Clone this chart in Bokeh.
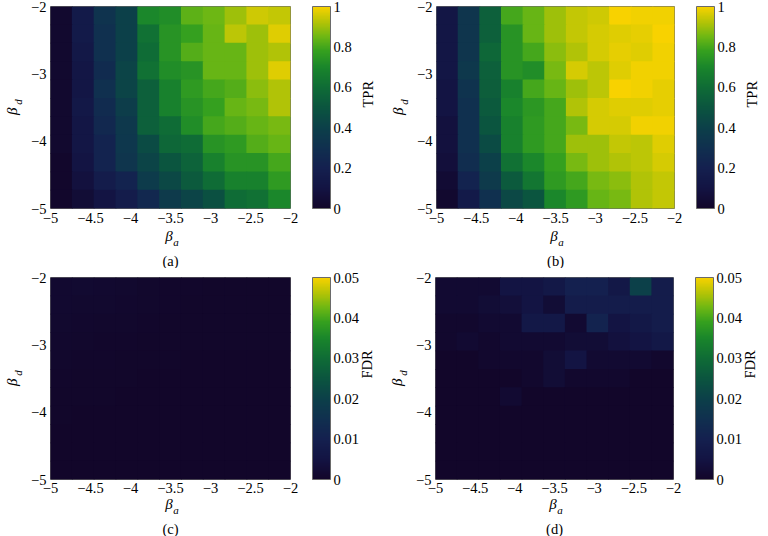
import numpy as np
from bokeh.plotting import figure
from bokeh.models import (ColumnDataSource, LinearColorMapper, ColorBar, FixedTicker,
                          CustomJSTickFormatter, Range1d, LinearAxis, Title)
from bokeh.layouts import column, row
from bokeh.embed import file_html
from bokeh.resources import INLINE
from bokeh.transform import transform

# ---------------- data ----------------
beta_a_extent = [-5.0, -2.0]
beta_d_extent = [-5.0, -2.0]
x_ticks = [-5, -4.5, -4, -3.5, -3, -2.5, -2]
y_ticks = [-5, -4, -3, -2]
tpr_ticks = [0, 0.2, 0.4, 0.6, 0.8, 1]
fdr_ticks = [0, 0.01, 0.02, 0.03, 0.04, 0.05]
panel_tags = ["(a)", "(b)", "(c)", "(d)"]
cbar_titles = ["TPR", "TPR", "FDR", "FDR"]

# rows: top (beta_d = -2) to bottom (beta_d = -5); columns: beta_a = -5 .. -2
tpr_a = [
    [0.02, 0.15, 0.32, 0.40, 0.70, 0.72, 0.83, 0.85, 0.90, 0.95, 0.94],
    [0.02, 0.15, 0.30, 0.40, 0.62, 0.74, 0.78, 0.84, 0.93, 0.90, 0.97],
    [0.02, 0.14, 0.30, 0.40, 0.60, 0.74, 0.82, 0.84, 0.84, 0.90, 0.92],
    [0.02, 0.12, 0.27, 0.42, 0.62, 0.72, 0.74, 0.84, 0.84, 0.90, 0.97],
    [0.02, 0.12, 0.30, 0.42, 0.55, 0.68, 0.76, 0.80, 0.82, 0.88, 0.92],
    [0.02, 0.13, 0.27, 0.38, 0.55, 0.68, 0.74, 0.78, 0.84, 0.86, 0.92],
    [0.02, 0.12, 0.25, 0.35, 0.55, 0.60, 0.72, 0.80, 0.82, 0.84, 0.86],
    [0.02, 0.12, 0.22, 0.34, 0.45, 0.58, 0.60, 0.74, 0.76, 0.82, 0.84],
    [0.01, 0.10, 0.22, 0.33, 0.42, 0.50, 0.56, 0.68, 0.74, 0.74, 0.80],
    [0.01, 0.08, 0.17, 0.22, 0.37, 0.44, 0.52, 0.60, 0.68, 0.68, 0.76],
    [0.01, 0.05, 0.10, 0.17, 0.25, 0.36, 0.42, 0.48, 0.60, 0.62, 0.70],
]
tpr_b = [
    [0.12, 0.33, 0.55, 0.80, 0.84, 0.90, 0.94, 0.95, 1.00, 0.99, 0.99],
    [0.12, 0.33, 0.55, 0.74, 0.84, 0.90, 0.94, 0.96, 0.97, 0.98, 1.00],
    [0.12, 0.33, 0.58, 0.74, 0.80, 0.88, 0.92, 0.96, 0.98, 0.97, 0.99],
    [0.12, 0.35, 0.55, 0.74, 0.72, 0.86, 0.96, 0.93, 0.97, 0.99, 0.99],
    [0.10, 0.32, 0.54, 0.68, 0.80, 0.84, 0.90, 0.93, 1.00, 0.99, 0.98],
    [0.10, 0.30, 0.52, 0.70, 0.75, 0.80, 0.92, 0.96, 0.97, 0.97, 0.98],
    [0.08, 0.30, 0.50, 0.68, 0.76, 0.80, 0.86, 0.96, 0.96, 0.99, 0.99],
    [0.08, 0.30, 0.45, 0.68, 0.76, 0.80, 0.90, 0.90, 0.94, 0.93, 0.97],
    [0.07, 0.28, 0.40, 0.62, 0.70, 0.78, 0.86, 0.90, 0.92, 0.93, 0.96],
    [0.04, 0.22, 0.36, 0.52, 0.64, 0.76, 0.80, 0.86, 0.88, 0.92, 0.94],
    [0.02, 0.15, 0.30, 0.44, 0.50, 0.70, 0.76, 0.84, 0.86, 0.92, 0.94],
]
fdr_c = [
    [0.0012, 0.0014, 0.0012, 0.0010, 0.0006, 0.0004, 0.0004, 0.0002, 0.0002, 0.0002, 0.0002],
    [0.0012, 0.0010, 0.0010, 0.0008, 0.0006, 0.0004, 0.0002, 0.0002, 0.0002, 0.0002, 0.0002],
    [0.0010, 0.0008, 0.0006, 0.0006, 0.0004, 0.0002, 0.0002, 0.0002, 0.0002, 0.0002, 0.0002],
    [0.0008, 0.0006, 0.0004, 0.0004, 0.0002, 0.0002, 0.0002, 0.0002, 0.0002, 0.0002, 0.0002],
    [0.0006, 0.0004, 0.0004, 0.0002, 0.0002, 0.0002, 0.0000, 0.0000, 0.0000, 0.0000, 0.0000],
    [0.0004, 0.0002, 0.0002, 0.0002, 0.0000, 0.0000, 0.0000, 0.0000, 0.0000, 0.0000, 0.0000],
    [0.0002, 0.0002, 0.0002, 0.0000, 0.0000, 0.0000, 0.0000, 0.0000, 0.0000, 0.0000, 0.0000],
    [0.0002, 0.0000, 0.0000, 0.0000, 0.0000, 0.0000, 0.0000, 0.0000, 0.0000, 0.0000, 0.0000],
    [0.0000, 0.0000, 0.0000, 0.0000, 0.0000, 0.0000, 0.0000, 0.0000, 0.0000, 0.0000, 0.0000],
    [0.0000, 0.0000, 0.0000, 0.0000, 0.0000, 0.0000, 0.0000, 0.0000, 0.0000, 0.0000, 0.0000],
    [0.0000, 0.0000, 0.0000, 0.0000, 0.0000, 0.0000, 0.0000, 0.0000, 0.0000, 0.0000, 0.0000],
]
fdr_d = [
    [0.0016, 0.0016, 0.0016, 0.0050, 0.0050, 0.0065, 0.0100, 0.0100, 0.0065, 0.0200, 0.0085],
    [0.0016, 0.0016, 0.0024, 0.0032, 0.0050, 0.0024, 0.0085, 0.0085, 0.0085, 0.0085, 0.0085],
    [0.0008, 0.0008, 0.0016, 0.0016, 0.0065, 0.0065, 0.0016, 0.0110, 0.0050, 0.0065, 0.0085],
    [0.0008, 0.0016, 0.0008, 0.0016, 0.0016, 0.0016, 0.0024, 0.0024, 0.0040, 0.0050, 0.0065],
    [0.0000, 0.0000, 0.0008, 0.0008, 0.0008, 0.0024, 0.0050, 0.0016, 0.0016, 0.0016, 0.0008],
    [0.0000, 0.0000, 0.0000, 0.0000, 0.0008, 0.0024, 0.0008, 0.0008, 0.0008, 0.0000, 0.0000],
    [0.0000, 0.0000, 0.0000, 0.0016, 0.0000, 0.0000, 0.0000, 0.0000, 0.0000, 0.0000, 0.0000],
    [0.0000, 0.0000, 0.0000, 0.0000, 0.0000, 0.0000, 0.0000, 0.0000, 0.0000, 0.0000, 0.0000],
    [0.0000, 0.0000, 0.0000, 0.0000, 0.0000, 0.0000, 0.0000, 0.0000, 0.0000, 0.0000, 0.0000],
    [0.0000, 0.0000, 0.0000, 0.0000, 0.0000, 0.0000, 0.0000, 0.0000, 0.0000, 0.0000, 0.0000],
    [0.0000, 0.0000, 0.0000, 0.0000, 0.0000, 0.0000, 0.0000, 0.0000, 0.0000, 0.0000, 0.0000],
]

# ---------------- colormap ----------------
anchors = [
    (0.00, "#12062a"), (0.10, "#131443"), (0.20, "#14204f"), (0.30, "#10304f"),
    (0.40, "#0c4049"), (0.50, "#0b553f"), (0.60, "#0f6c36"), (0.70, "#1a862b"),
    (0.78, "#35a01f"), (0.85, "#6cb714"), (0.92, "#b0c307"), (1.00, "#f8d200"),
]


def build_palette(n=256):
    pos = np.array([a[0] for a in anchors])
    rgb = np.array([[int(c[1][i:i + 2], 16) for i in (1, 3, 5)] for c in anchors], float)
    out = []
    for t in np.linspace(0, 1, n):
        r, g, b = (np.interp(t, pos, rgb[:, k]) for k in range(3))
        out.append("#%02x%02x%02x" % (int(round(r)), int(round(g)), int(round(b))))
    return out


PALETTE = build_palette()
FONT = "Liberation Serif"
FS = "14.5px"
minus_fmt = CustomJSTickFormatter(code="return tick < 0 ? '\\u2212' + (-tick) : '' + tick;")


def label_axis(text, size, standoff):
    # an axis without ticks, used only to carry a (sub)label outside the frame
    return LinearAxis(ticker=FixedTicker(ticks=[]), axis_label=text,
                      axis_label_text_font=FONT, axis_label_text_font_size=size,
                      axis_label_text_font_style="italic", axis_label_text_color="black",
                      axis_label_standoff=standoff,
                      axis_line_color=None, major_tick_line_color=None, minor_tick_line_color=None,
                      major_tick_out=0, major_tick_in=0, minor_tick_out=0, minor_tick_in=0,
                      major_label_standoff=0)


def make_panel(values, vmax, cticks, ctitle, tag, right, top, bottom, fw, fh,
               xs_main, xs_beta, xs_sub, ct_standoff):
    nr = len(values)
    nc = len(values[0])
    dx = (beta_a_extent[1] - beta_a_extent[0]) / nc
    dy = (beta_d_extent[1] - beta_d_extent[0]) / nr
    xs, ys, vs = [], [], []
    for r in range(nr):
        for c in range(nc):
            xs.append(beta_a_extent[0] + (c + 0.5) * dx)
            ys.append(beta_d_extent[1] - (r + 0.5) * dy)
            vs.append(values[r][c])
    src = ColumnDataSource(dict(x=xs, y=ys, v=vs))
    mapper = LinearColorMapper(palette=PALETTE, low=0, high=vmax)

    p = figure(frame_width=fw, frame_height=fh, output_backend="svg", toolbar_location=None,
               x_range=Range1d(*beta_a_extent), y_range=Range1d(*beta_d_extent),
               min_border_left=0, min_border_right=right,
               min_border_top=top, min_border_bottom=bottom)
    p.rect(x="x", y="y", width=dx * 1.04, height=dy * 1.04, source=src,
           fill_color=transform("v", mapper), line_color=None)
    p.grid.visible = False
    p.outline_line_color = "#6a6a6a"
    p.outline_line_width = 1
    p.background_fill_color = "white"
    p.border_fill_color = "white"
    for ax in (p.xaxis[0], p.yaxis[0]):
        ax.axis_line_color = None
        ax.major_tick_line_color = None
        ax.minor_tick_line_color = None
        ax.major_tick_out = 0
        ax.major_tick_in = 0
        ax.minor_tick_out = 0
        ax.minor_tick_in = 0
        ax.major_label_text_font = FONT
        ax.major_label_text_font_size = FS
        ax.major_label_text_color = "black"
        ax.formatter = minus_fmt
        ax.axis_label_text_font = FONT
        ax.axis_label_text_font_style = "italic"
        ax.axis_label_text_color = "black"
    xa = p.xaxis[0]
    ya = p.yaxis[0]
    xa.ticker = FixedTicker(ticks=x_ticks)
    ya.ticker = FixedTicker(ticks=y_ticks)
    xa.major_label_standoff = xs_main
    ya.major_label_standoff = 4

    # x label: beta (main axis label) + subscript a on an outer axis
    xa.axis_label = "β\u2009"
    xa.axis_label_text_font_size = "15px"
    xa.axis_label_standoff = xs_beta
    p.add_layout(label_axis("\u2003a", "11px", xs_sub), "below")
    p.add_layout(Title(text=tag, align="center", text_font=FONT, text_font_size=FS,
                       text_font_style="normal", text_color="black", standoff=0), "below")

    # y label: subscript d (main axis label) + beta on an outer axis
    ya.axis_label = "\u2002\u2002d"
    ya.axis_label_text_font_size = "11px"
    ya.axis_label_standoff = 4
    p.add_layout(label_axis("β\u2002", "15px", -10), "left")

    cb = ColorBar(color_mapper=mapper, width=18, height=fh, location=(22, 0),
                  margin=0, padding=0,
                  ticker=FixedTicker(ticks=cticks),
                  formatter=CustomJSTickFormatter(code="return '' + tick;"),
                  major_label_text_font=FONT, major_label_text_font_size=FS,
                  major_label_text_color="black", label_standoff=3,
                  major_tick_line_color=None, minor_tick_line_color=None,
                  bar_line_color="#6a6a6a", bar_line_width=1,
                  background_fill_color=None, border_line_color=None)
    p.add_layout(cb, "right")
    cbt = LinearAxis(ticker=FixedTicker(ticks=[-3.5]),
                     formatter=CustomJSTickFormatter(code="return '%s';" % ctitle),
                     major_label_orientation=np.pi / 2, major_label_standoff=ct_standoff,
                     major_label_text_font=FONT, major_label_text_font_size=FS,
                     major_label_text_color="black",
                     axis_line_color=None, major_tick_line_color=None, minor_tick_line_color=None,
                     major_tick_out=0, major_tick_in=0, minor_tick_out=0, minor_tick_in=0)
    p.add_layout(cbt, "right")
    return p


pa = make_panel(tpr_a, 1.0, tpr_ticks, cbar_titles[0], panel_tags[0], 91, 6, 59, 240, 202, 4, 2, -11, 13)
pb = make_panel(tpr_b, 1.0, tpr_ticks, cbar_titles[1], panel_tags[1], 91, 6, 59, 238, 202, 4, 2, -11, 13)
pc = make_panel(fdr_c, 0.05, fdr_ticks, cbar_titles[2], panel_tags[2], 91, 9, 55, 240, 202, 3, 0, -11, 5)
pd = make_panel(fdr_d, 0.05, fdr_ticks, cbar_titles[3], panel_tags[3], 91, 9, 55, 238, 202, 3, 0, -11, 5)

layout = column(row(pa, pb), row(pc, pd))
open("out.html", "w").write(file_html(layout, INLINE))
